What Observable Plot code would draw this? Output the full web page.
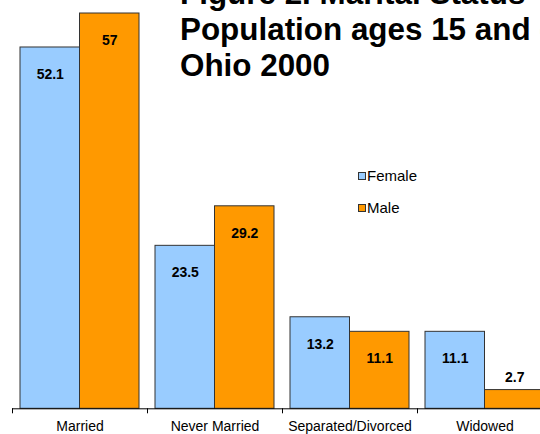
<!DOCTYPE html>
<html>
<head>
<meta charset="utf-8">
<script src="https://cdn.jsdelivr.net/npm/d3@7"></script>
<script src="https://cdn.jsdelivr.net/npm/@observablehq/plot@0.6"></script>
<style>
  html, body { margin: 0; padding: 0; background: #fff; overflow: hidden; }
  #wrap { position: relative; width: 540px; height: 434px; overflow: hidden; font-family: "Liberation Sans", Arial, sans-serif; }
  #title { position: absolute; left: 180px; top: -24px; font-size: 31.4px; font-weight: bold; line-height: 36px; white-space: nowrap; color: #000; }
  #legend { position: absolute; left: 358px; top: 166px; font-size: 15px; color: #000; }
  .item { position: absolute; left: 0; height: 20px; line-height: 20px; white-space: nowrap; }
  .sw { position: absolute; left: 0; top: 6px; width: 6px; height: 6px; border: 1px solid #333; }
  .lab { position: absolute; left: 9px; top: 0; }
</style>
</head>
<body>
<div id="wrap">
  <div id="chart"></div>
  <div id="title"></div>
  <div id="legend"></div>
</div>
<script>
const categories = ["Married", "Never Married", "Separated/Divorced", "Widowed"];
const series = ["Female", "Male"];
const female = [52.1, 23.5, 13.2, 11.1];
const male = [57, 29.2, 11.1, 2.7];
const titleLines = ["Figure 2. Marital Status", "Population ages 15 and over", "Ohio 2000"];

const colors = {Female: "#99CCFF", Male: "#FF9900"};
const rows = [];
categories.forEach((c, i) => {
  rows.push({category: c, sex: "Female", value: female[i]});
  rows.push({category: c, sex: "Male", value: male[i]});
});
const fem = rows.filter(d => d.sex === "Female");
const mal = rows.filter(d => d.sex === "Male");

const labelFont = {fontSize: 14, fontWeight: "bold", fill: "#000"};
const fmt = d => String(d.value);

const chart = Plot.plot({
  width: 540,
  height: 434,
  marginLeft: 12,
  marginRight: 0,
  marginTop: 0,
  marginBottom: 0,
  style: {fontFamily: "'Liberation Sans', Arial, sans-serif", background: "transparent", overflow: "hidden"},
  x: {type: "band", domain: categories, range: [12, 552], padding: 0, axis: null},
  y: {domain: [0, 60], range: [408.3, -7.8], axis: null},
  marks: [
    Plot.barY(fem, {x: "category", y: "value", fill: colors.Female, stroke: "#333", strokeWidth: 1, insetLeft: 8, insetRight: 67.5}),
    Plot.barY(mal, {x: "category", y: "value", fill: colors.Male, stroke: "#333", strokeWidth: 1, insetLeft: 67.5, insetRight: 8}),
    Plot.text(fem, {x: "category", y: "value", text: fmt, dx: -29.75, dy: 27, ...labelFont}),
    Plot.text(mal.filter(d => d.value >= 5), {x: "category", y: "value", text: fmt, dx: 29.75, dy: 27, ...labelFont}),
    Plot.text(mal.filter(d => d.value < 5), {x: "category", y: "value", text: fmt, dx: 29.75, dy: -13, ...labelFont}),
    Plot.ruleY([0], {stroke: "#000", strokeWidth: 1}),
    Plot.ruleX(categories, {x: d => d, y1: 0, y2: 0, dx: -67.5, insetBottom: -5, stroke: "#000", strokeWidth: 1}),
    Plot.text(categories, {x: d => d, y: 0, text: d => d, dy: 18, fontSize: 14, fill: "#000"})
  ]
});
document.getElementById("chart").appendChild(chart);

document.getElementById("title").innerHTML = titleLines.map(t => `<div>${t}</div>`).join("");

const legend = document.getElementById("legend");
series.forEach((s, i) => {
  const item = document.createElement("div");
  item.className = "item";
  item.style.top = (i * 32) + "px";
  item.innerHTML = `<span class="sw" style="background:${colors[s]}"></span><span class="lab">${s}</span>`;
  legend.appendChild(item);
});
</script>
</body>
</html>
